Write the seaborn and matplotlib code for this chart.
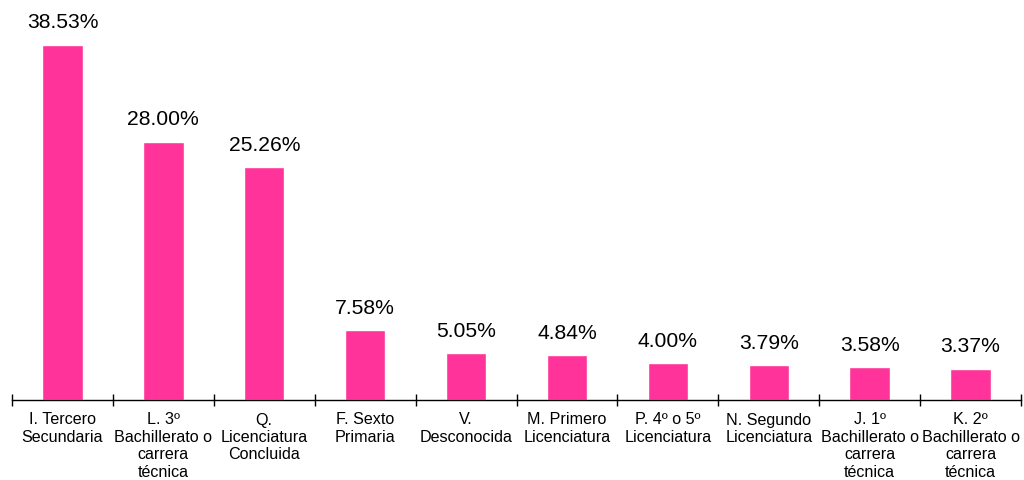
import matplotlib
matplotlib.use('Agg')
import matplotlib.pyplot as plt
import seaborn as sns
import pandas as pd
import numpy as np

# Data
categories = [
    "I. Tercero\nSecundaria",
    "L. 3º\nBachillerato o\ncarrera\ntécnica",
    "Q.\nLicenciatura\nConcluida",
    "F. Sexto\nPrimaria",
    "V.\nDesconocida",
    "M. Primero\nLicenciatura",
    "P. 4º o 5º\nLicenciatura",
    "N. Segundo\nLicenciatura",
    "J. 1º\nBachillerato o\ncarrera\ntécnica",
    "K. 2º\nBachillerato o\ncarrera\ntécnica",
]
percentages = [38.53, 28.00, 25.26, 7.58, 5.05, 4.84, 4.00, 3.79, 3.58, 3.37]

df = pd.DataFrame({"categoria": categories, "porcentaje": percentages})

sns.set_style("white")
plt.rcParams['font.family'] = ['Liberation Sans', 'DejaVu Sans']

fig = plt.figure(figsize=(10.24, 4.8), dpi=100)
ax = fig.add_axes([12 / 1024, 80 / 480, 1009 / 1024, 400 / 480])

sns.barplot(data=df, x="categoria", y="porcentaje", color="#FF3399",
            saturation=1, width=0.4, ax=ax)

for i, v in enumerate(percentages):
    ax.annotate(f"{v:.2f}%", (i, v), xytext=(0, 9), textcoords="offset points",
                ha="center", va="bottom", fontsize=15.2, color="black")

ax.set_xlim(-0.5, len(categories) - 0.5)
ax.set_ylim(0, 43.4)
ax.set_xlabel("")
ax.set_ylabel("")
ax.set_yticks([])

ax.tick_params(axis="x", which="major", bottom=True, length=0, labelsize=11.6,
               pad=9, labelcolor="black")
ax.set_xticks(np.arange(-0.5, len(categories)), minor=True)
ax.tick_params(axis="x", which="minor", bottom=True, direction="inout",
               length=9, width=1, color="black")
for lbl in ax.get_xticklabels():
    lbl.set_linespacing(1.2)

for s in ["top", "right", "left"]:
    ax.spines[s].set_visible(False)
ax.spines["bottom"].set_color("black")
ax.spines["bottom"].set_linewidth(1)

fig.savefig("out.png", dpi=100)
